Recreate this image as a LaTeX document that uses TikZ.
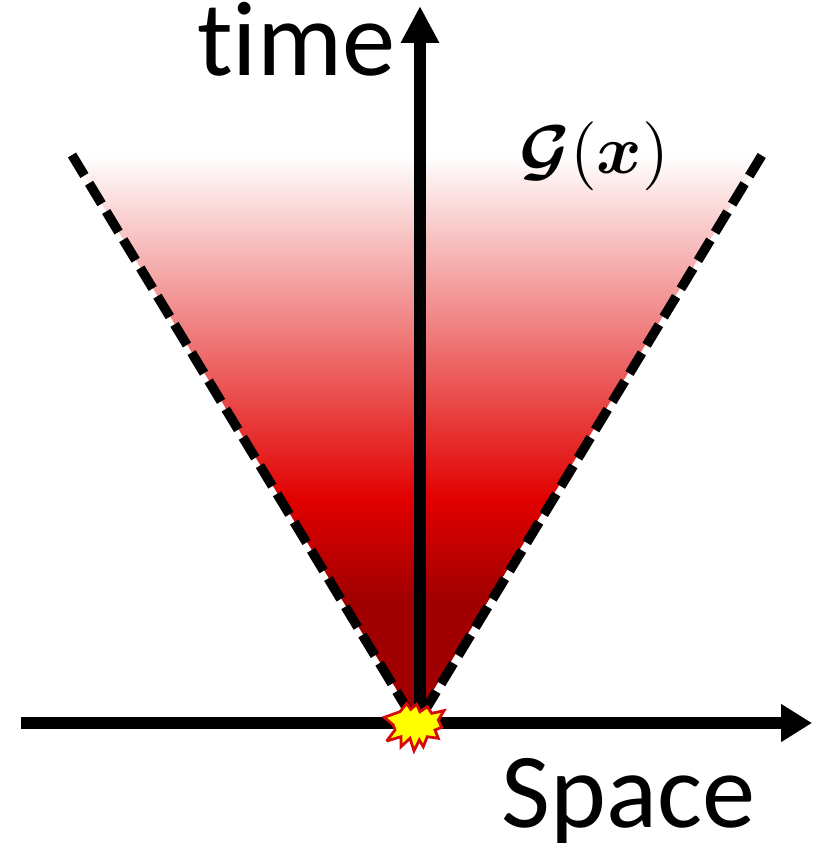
\documentclass[tikz,border=0pt]{standalone}
\usepackage{amsmath,amsbsy}
\usepackage{fontspec}
\setmainfont[Ligatures={NoCommon,NoRequired,NoContextual}]{Carlito}
\usetikzlibrary{arrows.meta}
\definecolor{burstred}{RGB}{215,10,10}
\definecolor{burstyellow}{RGB}{255,255,0}
\definecolor{midred}{RGB}{225,0,0}
\definecolor{darkred}{RGB}{160,0,0}
\pgfdeclareverticalshading{conefade}{100bp}{
  color(0bp)=(darkred); color(35.6bp)=(darkred); color(44.5bp)=(midred); color(75bp)=(white); color(100bp)=(white)}
\tikzset{
  axisline/.style={line width=12pt},
  coneedge/.style={line width=9.5pt,dash pattern=on 24pt off 9pt},
  bigtext/.style={font=\fontsize{106.5}{110}\selectfont,inner sep=0pt,anchor=base west}
}
\begin{document}
\begin{tikzpicture}[x=1pt,y=-1pt]
\useasboundingbox (0,0) rectangle (812,843);
\coordinate (apex) at (415,720);
\coordinate (topL) at (72,155);
\coordinate (topR) at (762,155);
\coordinate (leftEnd) at (409,712);
\coordinate (rightEnd) at (424,712);
\coordinate (xStart) at (21,723);
\coordinate (xEnd) at (812,723);
\coordinate (yStart) at (420,715);
\coordinate (yEnd) at (420,6);
\shade[shading=conefade] (topL) -- (topR) -- (apex) -- cycle;
\draw[coneedge] (topL) -- (leftEnd);
\draw[coneedge] (rightEnd) -- (topR);
\draw[axisline,-{Triangle[length=31pt,width=36pt]}] (xStart) -- (xEnd);
\draw[axisline,-{Triangle[length=37pt,width=36pt]}] (yStart) -- (yEnd);
\draw[line width=2.8pt,draw=burstred,fill=burstyellow,line join=miter,miter limit=3]
 (384.3,717.3)--(400,711.7)--(406.7,703.3)--(410.7,709.3)--(416.7,704.3)--(420,711.7)--(427.3,706.7)--(431.7,713.3)--(444,710.7)--(438.3,720)--(441.7,727.3)--(435,730)--(438.3,738.3)--(427.3,736.7)--(423.3,746.7)--(419.3,740)--(414,750.7)--(410,738.3)--(401,746.7)--(401,736.7)--(386.7,741)--(395,730)--(393.3,725)--cycle;
\node[bigtext] (timeLabel) at (197,76) {time};
\node[bigtext] (spaceLabel) at (501,827) {Space};
\node[inner sep=0pt,anchor=base west] (gLabel) at (519,173) {\scalebox{6.9}{$\boldsymbol{\mathcal{G}}(\boldsymbol{x})$}};
\end{tikzpicture}
\end{document}
